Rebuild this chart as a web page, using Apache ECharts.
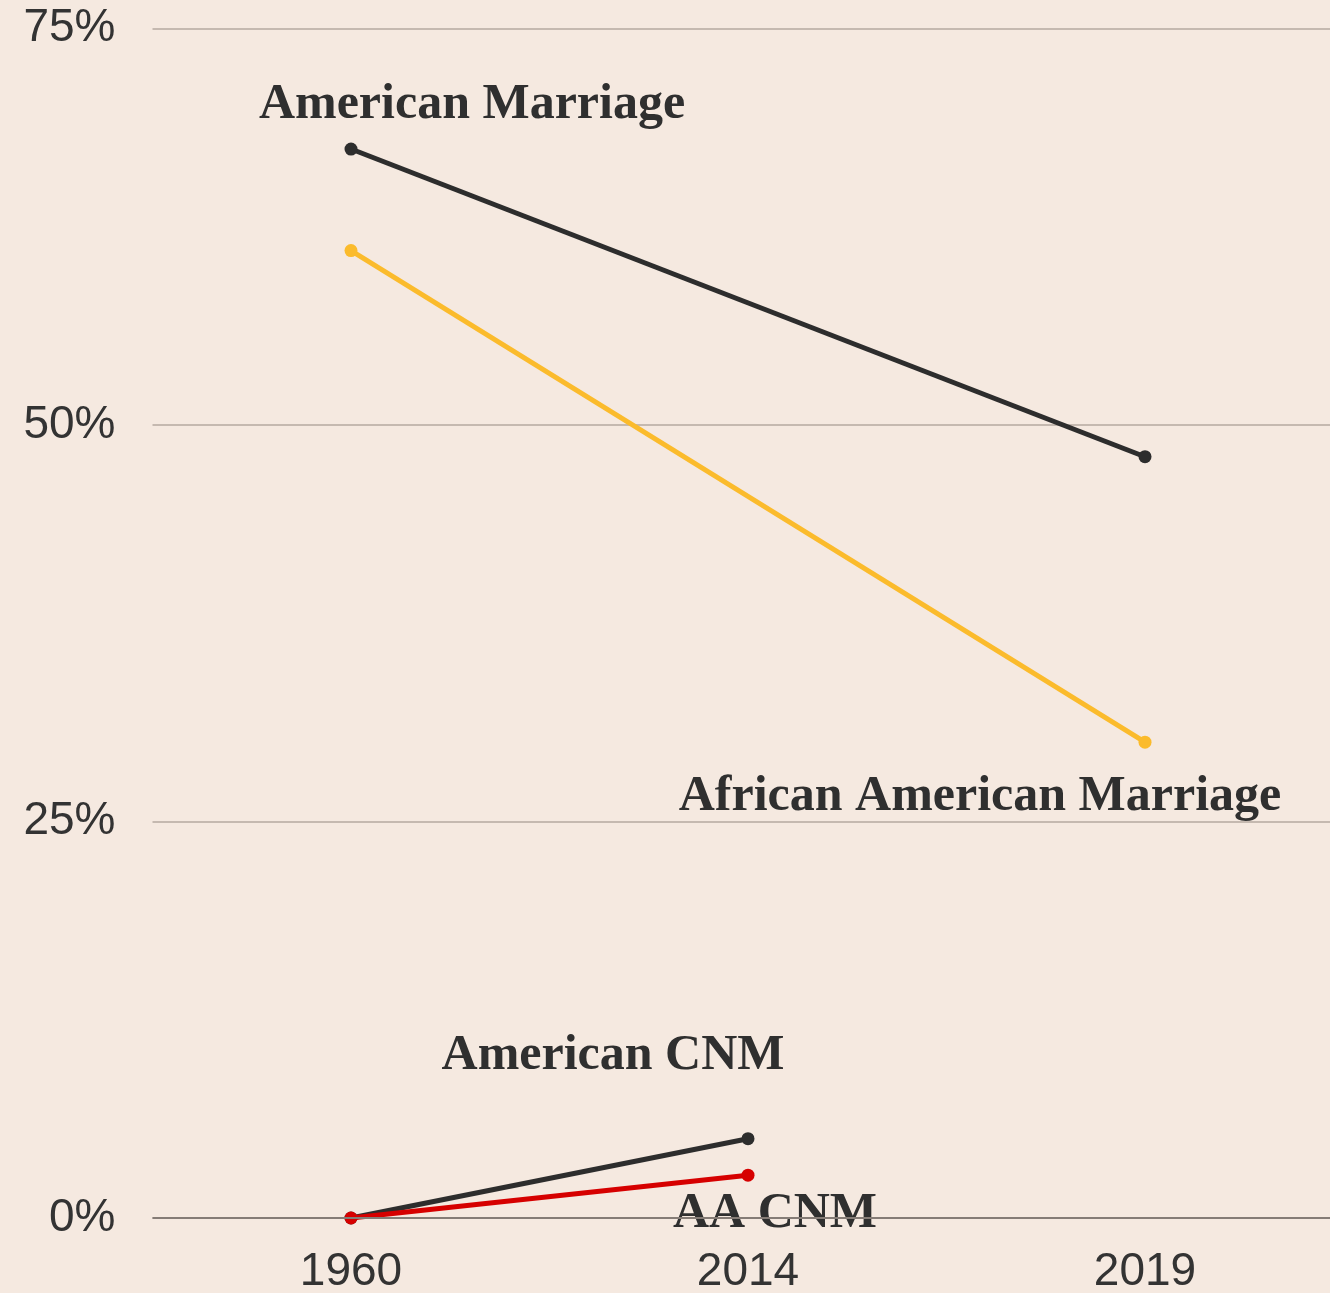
<!DOCTYPE html>
<html>
<head>
<meta charset="utf-8">
<script src="https://cdn.jsdelivr.net/npm/echarts@6/dist/echarts.min.js"></script>
<style>
html,body{margin:0;padding:0;background:#f5e9e0;}
#chart{width:1330px;height:1293px;}
</style>
</head>
<body>
<div id="chart"></div>
<script>
const years = ['1960', '2014', '2019'];
const yTicks = [0, 25, 50, 75];
const americanMarriage = [67.4, null, 48.0];
const aaMarriage = [61.0, null, 30.0];
const americanCNM = [0, 5.0, null];
const aaCNM = [0, 2.7, null];

const serifLabel = {
  fontFamily: '"Liberation Serif", "DejaVu Serif", serif',
  fontWeight: 'bold',
  fontSize: 50,
  color: '#2f2f2f'
};

function withLabel(values, idx, text, offset) {
  return values.map((v, i) => {
    if (i !== idx) return v;
    return {
      value: v,
      label: Object.assign({
        show: true, position: 'inside', offset: offset,
        formatter: text, align: 'center', verticalAlign: 'middle'
      }, serifLabel)
    };
  });
}

const chart = echarts.init(document.getElementById('chart'), null, {renderer: 'canvas'});
chart.setOption({
  backgroundColor: '#f5e9e0',
  animation: false,
  grid: {left: 152.5, right: -13.5, top: 28.5, bottom: 75, containLabel: false, outerBoundsMode: 'none'},
  xAxis: {
    type: 'category',
    data: years,
    boundaryGap: true,
    axisLine: {show: false},
    axisTick: {show: false},
    axisLabel: {
      fontFamily: '"Liberation Sans", Arial, sans-serif',
      fontSize: 46, color: '#333333', margin: 31
    }
  },
  yAxis: {
    type: 'value',
    min: 0, max: 75, interval: 25,
    axisLine: {show: false},
    axisTick: {show: false},
    splitLine: {lineStyle: {color: '#c5b9b0', width: 2}},
    axisLabel: {
      fontFamily: '"Liberation Sans", Arial, sans-serif',
      fontSize: 46, color: '#333333', margin: 37,
      formatter: v => yTicks.includes(v) ? v + '%' : ''
    }
  },
  series: [
    {
      name: 'American Marriage', type: 'line', connectNulls: true,
      data: withLabel(americanMarriage, 0, 'American Marriage', [121, -44]),
      symbol: 'circle', symbolSize: 13,
      lineStyle: {color: '#2d2d2d', width: 5},
      itemStyle: {color: '#2d2d2d'}, z: 3
    },
    {
      name: 'African American Marriage', type: 'line', connectNulls: true,
      data: withLabel(aaMarriage, 2, 'African American Marriage', [-165, 55]),
      symbol: 'circle', symbolSize: 13,
      lineStyle: {color: '#fbbb2c', width: 5},
      itemStyle: {color: '#fbbb2c'}, z: 2
    },
    {
      name: 'American CNM', type: 'line', connectNulls: true,
      data: withLabel(americanCNM, 1, 'American CNM', [-135, -83]),
      symbol: 'circle', symbolSize: 13,
      lineStyle: {color: '#2d2d2d', width: 5},
      itemStyle: {color: '#2d2d2d'}, z: 3
    },
    {
      name: 'AA CNM', type: 'line', connectNulls: true,
      data: withLabel(aaCNM, 1, 'AA CNM', [27, 39]),
      symbol: 'circle', symbolSize: 13,
      lineStyle: {color: '#d60000', width: 5},
      itemStyle: {color: '#d60000'}, z: 4,
      markLine: {
        silent: true, symbol: 'none', label: {show: false},
        lineStyle: {color: '#857c76', width: 2, type: 'solid'},
        data: [{yAxis: 0}]
      }
    }
  ]
});
</script>
</body>
</html>
